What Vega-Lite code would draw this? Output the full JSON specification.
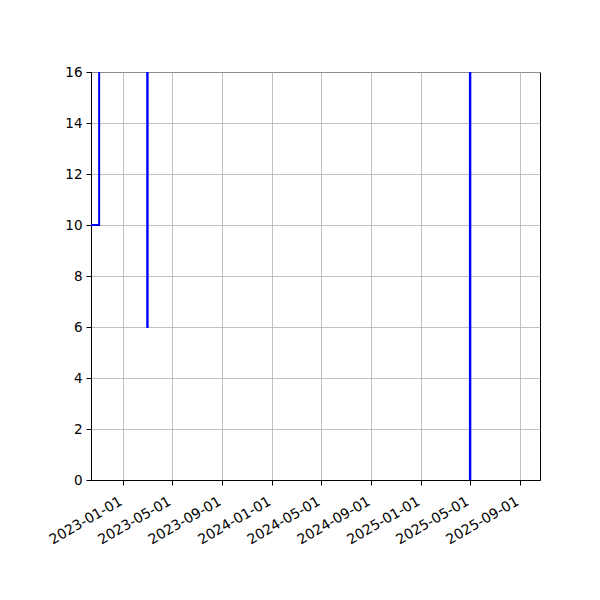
{
  "$schema": "https://vega.github.io/schema/vega-lite/v6.json",
  "autosize": "none",
  "padding": {"left": 91, "top": 72, "right": 60, "bottom": 120},
  "width": 449,
  "height": 408,
  "background": "white",
  "config": {
    "font": "DejaVu Sans",
    "view": {"stroke": "black", "strokeWidth": 1},
    "axis": {
      "domainColor": "black",
      "tickColor": "black",
      "tickSize": 5,
      "labelColor": "black",
      "labelFont": "DejaVu Sans",
      "labelFontSize": 13.5,
      "gridColor": "#b0b0b0",
      "gridWidth": 0.8,
      "title": null
    }
  },
  "data": {
    "values": [
      {"date": "2022-10-14", "value": 10},
      {"date": "2022-11-03", "value": 40},
      {"date": "2023-03-01", "value": 6},
      {"date": "2023-03-02", "value": 40},
      {"date": "2025-05-01", "value": 0},
      {"date": "2025-05-02", "value": 40},
      {"date": "2025-10-20", "value": 40}
    ]
  },
  "mark": {"type": "line", "interpolate": "step-after", "color": "#0000ff", "strokeWidth": 2, "clip": true},
  "encoding": {
    "x": {
      "field": "date",
      "type": "temporal",
      "scale": {
        "type": "utc",
        "domain": [
          {"year": 2022, "month": 10, "date": 14, "utc": true},
          {"year": 2025, "month": 10, "date": 20, "utc": true}
        ]
      },
      "axis": {
        "values": [
          {"year": 2023, "month": 1, "date": 1, "utc": true},
          {"year": 2023, "month": 5, "date": 1, "utc": true},
          {"year": 2023, "month": 9, "date": 1, "utc": true},
          {"year": 2024, "month": 1, "date": 1, "utc": true},
          {"year": 2024, "month": 5, "date": 1, "utc": true},
          {"year": 2024, "month": 9, "date": 1, "utc": true},
          {"year": 2025, "month": 1, "date": 1, "utc": true},
          {"year": 2025, "month": 5, "date": 1, "utc": true},
          {"year": 2025, "month": 9, "date": 1, "utc": true}
        ],
        "labelExpr": "utcFormat(datum.value, '%Y-%m-%d')",
        "labelFontSize": 14,
        "labelAngle": -30,
        "labelAlign": "right",
        "labelBaseline": "top",
        "labelPadding": 9,
        "labelOffset": -6,
        "labelOverlap": false,
        "labelFlush": false,
        "grid": true
      }
    },
    "y": {
      "field": "value",
      "type": "quantitative",
      "scale": {"domain": [0, 16], "nice": false},
      "axis": {"values": [0, 2, 4, 6, 8, 10, 12, 14, 16], "grid": true, "labelPadding": 4}
    }
  }
}
